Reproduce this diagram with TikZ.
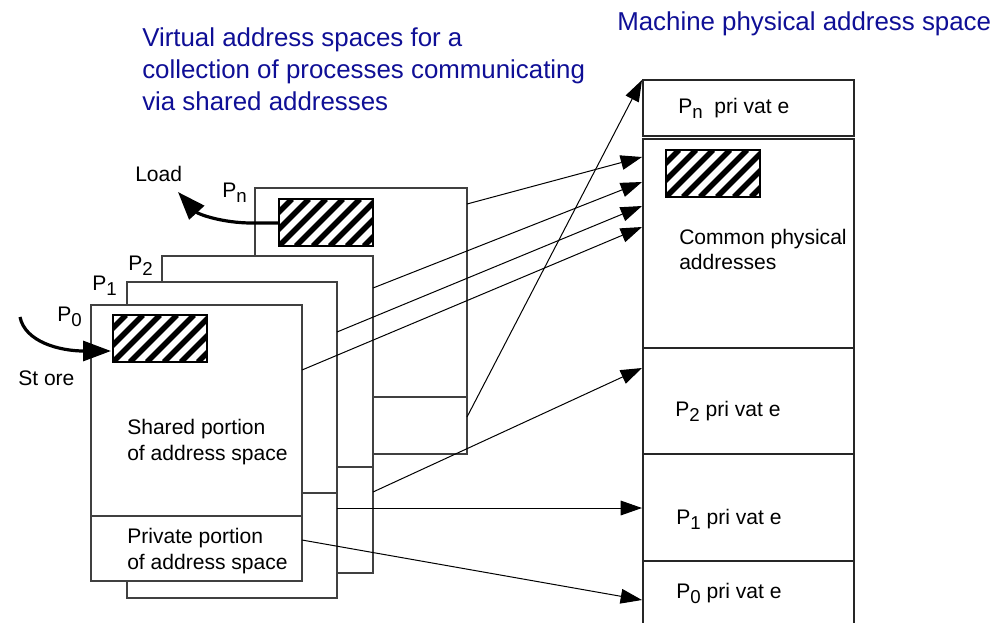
\documentclass[tikz,border=0pt]{standalone}
\usepackage{fontspec}
\setmainfont{Liberation Sans}
\usetikzlibrary{arrows.meta}

\definecolor{titleblue}{RGB}{15,15,150}
\tikzset{
	vbox/.style={draw=black!75, line width=1pt, fill=white},
	mbox/.style={draw=black!85, line width=1pt},
	lbl/.style={anchor=base west, inner sep=0pt, font=\fontsize{15.8}{19}\selectfont},
	ttl/.style={anchor=base west, inner sep=0pt, text=titleblue, font=\fontsize{19.4}{23}\selectfont},
	map/.style={-{Triangle[length=16pt,width=11pt]}, line width=0.75pt},
	access/.style={-{Triangle[length=21pt,width=15pt]}, line width=2.4pt},
}
\newcommand{\psub}[1]{\raisebox{-0.5ex}{\fontsize{14}{14}\selectfont #1}}
% striped block, top left corner at (#1,#2)
\newcommand{\hatchbox}[2]{%
	\begin{scope}
		\clip (#1,#2) rectangle ++(94,47);
		\foreach \k in {-3,...,6}
			\draw[line width=4pt] (#1+\k*17, #2+47) -- ++(47,-47);
	\end{scope}
	\draw[line width=1pt] (#1,#2) rectangle ++(94,47);
}

\begin{document}
\begin{tikzpicture}[x=0.75pt, y=-0.75pt]
	\useasboundingbox (0,0) rectangle (1002,622);
	
	% Titles
	\node[ttl] (vt1) at (142,46) {Virtual address spaces for a};
	\node[ttl] (vt2) at (142,78) {collection of processes communicating};
	\node[ttl] (vt3) at (142,110) {via shared addresses};
	\node[ttl] (mt) at (617,30) {Machine physical address space};
	
	% === VIRTUAL SPACES (back to front) ===
	\draw[vbox] (255,188) rectangle (467,454);
	\draw[black!75, line width=1pt] (255,397) -- (467,397);
	\hatchbox{279}{199}
	
	\draw[vbox] (162,256) rectangle (373,573);
	\draw[black!75, line width=1pt] (162,467) -- (373,467);
	
	\draw[vbox] (127,282) rectangle (337,598);
	\draw[black!75, line width=1pt] (127,493) -- (337,493);
	
	\draw[vbox] (91,305) rectangle (302,581);
	\draw[black!75, line width=1pt] (91,516) -- (302,516);
	\hatchbox{113}{315}
	
	% === PHYSICAL SPACE ===
	\draw[mbox] (643,80) rectangle (854,136);
	\draw[mbox] (643,139) rectangle (854,348);
	\draw[mbox] (643,348) rectangle (854,454);
	\draw[mbox] (643,454) rectangle (854,561);
	\draw[mbox] (643,561) rectangle (854,640);
	\hatchbox{666}{150}
	
	% Connector ends
	\coordinate (pnsh) at (467,204);
	\coordinate (p2sh) at (373,288);
	\coordinate (p1sh) at (337,332);
	\coordinate (p0sh) at (302,370);
	\coordinate (pnpv) at (467,417);
	\coordinate (p2pv) at (373,492);
	\coordinate (p1pv) at (337,508);
	\coordinate (p0pv) at (302,540);
	\coordinate (cm1) at (642,157);
	\coordinate (cm2) at (642,182);
	\coordinate (cm3) at (642,206);
	\coordinate (cm4) at (642,227);
	\coordinate (mpn) at (642,80);
	\coordinate (mp2) at (642,368);
	\coordinate (mp1) at (642,508);
	\coordinate (mp0) at (642,600);
	
	\foreach \src/\dst in {pnsh/cm1, p2sh/cm2, p1sh/cm3, p0sh/cm4,
		pnpv/mpn, p2pv/mp2, p1pv/mp1, p0pv/mp0}
		\draw[map] (\src) -- (\dst);
	
	% Load and store
	\coordinate (ldsrc) at (279,223);
	\coordinate (ldtip) at (178,192);
	\coordinate (stsrc) at (20,317);
	\coordinate (sttip) at (111,351);
	\draw[access] (ldsrc) -- (252,223) .. controls (222,223) and (198,214) .. (ldtip);
	\draw[access] (stsrc) .. controls (25,342) and (60,351) .. (sttip);
	
	% Labels
	\node[lbl] (load) at (135,181) {Load};
	\node[lbl] (store) at (18,385) {St ore};
	\node[lbl] (lpn) at (222,197) {P\psub{n}};
	\node[lbl] (lp2) at (128,270) {P\psub{2}};
	\node[lbl] (lp1) at (92,290) {P\psub{1}};
	\node[lbl] (lp0) at (57,321) {P\psub{0}};
	
	\node[lbl] (sh1) at (127,434) {Shared portion};
	\node[lbl] (sh2) at (127,460) {of address space};
	\node[lbl] (pv1) at (127,543) {Private portion};
	\node[lbl] (pv2) at (127,569) {of address space};
	
	\node[lbl] (mlpn) at (678,113) {P\psub{n}\ \ pri vat e};
	\node[lbl] (cm1t) at (679,244) {Common physical};
	\node[lbl] (cm2t) at (679,269) {addresses};
	\node[lbl] (mlp2) at (675,416) {P\psub{2} pri vat e};
	\node[lbl] (mlp1) at (676,524) {P\psub{1} pri vat e};
	\node[lbl] (mlp0) at (676,598) {P\psub{0} pri vat e};
	
\end{tikzpicture}
\end{document}
